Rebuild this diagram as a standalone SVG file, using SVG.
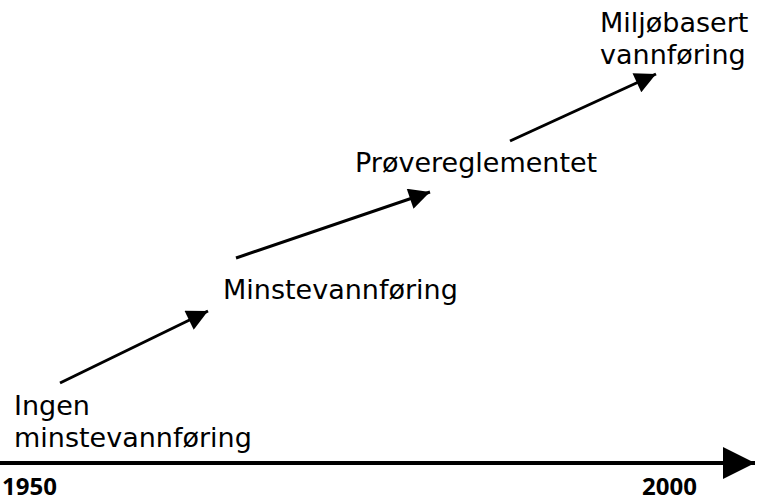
<svg xmlns="http://www.w3.org/2000/svg" width="757" height="501" viewBox="0 0 757 501">
<defs>
<marker id="ah" viewBox="0 0 10 10" refX="10" refY="5" markerWidth="9" markerHeight="7" markerUnits="strokeWidth" orient="auto">
<path d="M0,0 L10,5 L0,10 z" fill="#000"/>
</marker>
<marker id="axh" viewBox="0 0 10 10" refX="10" refY="5" markerWidth="11" markerHeight="8" markerUnits="strokeWidth" orient="auto">
<path d="M0,0 L10,5 L0,10 z" fill="#000"/>
</marker>
<style>
.lbl{font-family:"DejaVu Sans","Open Sans",sans-serif;font-size:27px;fill:#000}
.yr{font-family:"Open Sans","Noto Sans","Liberation Sans",sans-serif;font-size:24px;font-weight:bold;fill:#000}
.con{stroke:#000;stroke-width:3;fill:none}
</style>
</defs>
<rect width="757" height="501" fill="#fff"/>
<g id="connectors">
<line class="con" x1="60" y1="383" x2="208" y2="311" marker-end="url(#ah)"/>
<line class="con" x1="236" y1="258" x2="430" y2="192" marker-end="url(#ah)"/>
<line class="con" x1="510" y1="141" x2="656" y2="74" marker-end="url(#ah)"/>
<line x1="0" y1="463" x2="755" y2="463" stroke="#000" stroke-width="4" marker-end="url(#axh)"/>
</g>
<g id="n1"><text class="lbl" x="14" y="415">Ingen</text><text class="lbl" x="14" y="447">minstevannføring</text></g>
<g id="n2"><text class="lbl" x="223" y="299">Minstevannføring</text></g>
<g id="n3"><text class="lbl" x="355" y="172">Prøvereglementet</text></g>
<g id="n4"><text class="lbl" x="600" y="32">Miljøbasert</text><text class="lbl" x="600" y="64">vannføring</text></g>
<g id="y1950"><text class="yr" x="2" y="495">1950</text></g>
<g id="y2000"><text class="yr" x="697" y="495" text-anchor="end">2000</text></g>
</svg>
